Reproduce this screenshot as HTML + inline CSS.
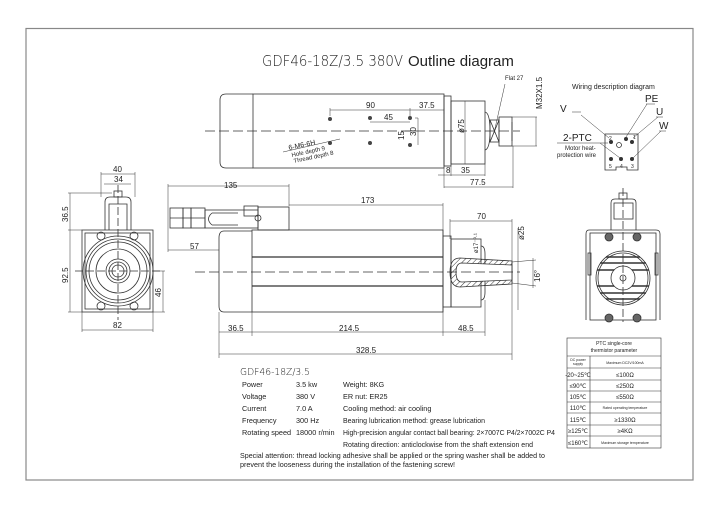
<!DOCTYPE html>
<html><head><meta charset="utf-8"><style>
html,body{margin:0;padding:0;background:#fff;}
svg{display:block;}
text{font-family:"Liberation Sans",sans-serif;fill:#222;}
.d{font-family:"DejaVu Sans","Liberation Sans",sans-serif;font-weight:200;}
</style></head><body>
<svg width="720" height="509" viewBox="0 0 720 509" xmlns="http://www.w3.org/2000/svg">
<defs>
<pattern id="h" width="4" height="4" patternUnits="userSpaceOnUse" patternTransform="rotate(45)"><line x1="0" y1="0" x2="0" y2="4" stroke="#333" stroke-width="1"/></pattern>
</defs>
<rect x="26" y="28.5" width="667" height="451.5" fill="none" stroke="#888" stroke-width="1.2"/>
<text x="262" y="66" font-size="15" class="d" fill="#555" textLength="141" lengthAdjust="spacingAndGlyphs">GDF46-18Z/3.5 380V</text>
<text x="408" y="66" font-size="15">Outline diagram</text>

<g fill="none" stroke="#333" stroke-width="0.8">
<path d="M253 94 H226 Q220 94 220 100 V162 Q220 168 226 168 H253"/>
<rect x="253" y="94" width="191" height="74"/>
<rect x="444" y="96" width="7" height="70"/>
<rect x="451" y="101" width="34" height="63"/>
<path d="M485 112 Q490 113 490 131 Q490 149 485 150"/>
<rect x="490" y="120" width="9" height="22"/>
<path d="M490 120 L499 142 M499 120 L490 142"/>
<rect x="499" y="117" width="13" height="29"/>
<line x1="512" y1="122" x2="512" y2="141"/>
<line x1="205" y1="131" x2="520" y2="131" stroke-dasharray="10,4"/>
<g stroke-width="0.5">
<line x1="330" y1="110" x2="444" y2="110"/><line x1="330" y1="108" x2="330" y2="116"/><line x1="410" y1="108" x2="410" y2="116"/><line x1="444" y1="108" x2="444" y2="114"/>
<line x1="370" y1="122" x2="410" y2="122"/>
<line x1="415" y1="118" x2="418" y2="118"/><line x1="418" y1="118" x2="418" y2="145"/><line x1="405" y1="131" x2="415" y2="131"/>
<line x1="465" y1="101" x2="465" y2="164"/>
<line x1="444" y1="168" x2="444" y2="188"/><line x1="451" y1="166" x2="451" y2="176"/><line x1="485" y1="164" x2="485" y2="176"/><line x1="513" y1="146" x2="513" y2="188"/>
<line x1="438" y1="175" x2="485" y2="175"/><line x1="444" y1="187" x2="513" y2="187"/>
<line x1="512" y1="117" x2="537" y2="117"/><line x1="512" y1="146" x2="537" y2="146"/><line x1="536" y1="117" x2="536" y2="146"/>
<line x1="494" y1="133" x2="505" y2="84"/>
<line x1="283" y1="152" x2="340" y2="139"/>
</g>
<g fill="#444" stroke="none">
<circle cx="330" cy="119" r="2"/><circle cx="370" cy="118" r="2"/><circle cx="410" cy="118" r="2"/>
<circle cx="330" cy="143" r="2"/><circle cx="370" cy="143" r="2"/><circle cx="410" cy="145" r="2"/>
</g>

<path d="M252 231 H224 Q219 231 219 238 V306 Q219 312 224 312 H252"/>
<rect x="252" y="230" width="191" height="82"/>
<line x1="252" y1="257" x2="443" y2="257" stroke-width="1.3"/>
<line x1="252" y1="286" x2="443" y2="286" stroke-width="1.3"/>
<rect x="443" y="236" width="8" height="71"/>
<rect x="451" y="239" width="30" height="68"/>
<path d="M481 246 Q485 246 485 254 V292 Q485 300 481 300"/>
<path d="M460 258 L512 261 V284 L460 287 Q450 287 450 272 Q450 258 460 258 Z" fill="url(#h)"/>
<path d="M462 263 L512 265 V280 L462 282 Q456 282 456 272 Q456 263 462 263 Z" fill="#fff"/>
<line x1="195" y1="272" x2="520" y2="272" stroke-dasharray="10,4"/>
<rect x="258" y="207" width="31" height="23"/>
<rect x="205" y="210" width="53" height="18"/>
<path d="M212 213 H238 M212 225 H238 M212 213 Q205 219 212 225"/>
<rect x="170" y="208" width="13" height="20"/><rect x="183" y="208" width="8" height="20"/><rect x="191" y="208" width="14" height="20"/>
<line x1="170" y1="218" x2="205" y2="218"/>
<rect x="244" y="206" width="14" height="10"/><circle cx="258" cy="218" r="3"/>
<g stroke-width="0.5">
<line x1="168" y1="186" x2="289" y2="186"/><line x1="168" y1="184" x2="168" y2="252"/><line x1="289" y1="184" x2="289" y2="206"/>
<line x1="289" y1="205" x2="443" y2="205"/><line x1="443" y1="203" x2="443" y2="236"/>
<line x1="168" y1="250" x2="219" y2="250"/>
<line x1="450" y1="221" x2="512" y2="221"/><line x1="450" y1="219" x2="450" y2="239"/><line x1="512" y1="219" x2="512" y2="360"/>
<line x1="518" y1="228" x2="518" y2="310"/>
<line x1="512" y1="262" x2="536" y2="260"/><line x1="512" y1="283" x2="536" y2="286"/><line x1="533" y1="258" x2="533" y2="288"/>
<line x1="219" y1="312" x2="219" y2="358"/><line x1="252" y1="312" x2="252" y2="336"/><line x1="443" y1="307" x2="443" y2="336"/><line x1="485" y1="300" x2="485" y2="336"/>
<line x1="219" y1="332" x2="485" y2="332"/>
<line x1="219" y1="354" x2="512" y2="354"/>
</g>

<rect x="82" y="230" width="71" height="82"/>
<rect x="85" y="233" width="65" height="76"/>
<circle cx="118" cy="271" r="35"/><circle cx="118" cy="271" r="32"/><circle cx="118" cy="271" r="29"/><circle cx="118" cy="271" r="22"/><circle cx="118" cy="271" r="12"/><circle cx="118" cy="271" r="9"/><circle cx="118" cy="271" r="6"/>
<circle cx="101" cy="236" r="4"/><circle cx="134" cy="236" r="4"/><circle cx="101" cy="306" r="4"/><circle cx="134" cy="306" r="4"/>
<path d="M105 230 V202 Q105 197 110 197 H126 Q131 197 131 202 V230"/><path d="M109 230 V204 H127 V230"/>
<rect x="114" y="191" width="8" height="6"/>
<line x1="118" y1="185" x2="118" y2="320" stroke-dasharray="8,3"/><line x1="75" y1="271" x2="160" y2="271" stroke-dasharray="8,3"/>
<g stroke-width="0.5">
<line x1="101" y1="174" x2="135" y2="174"/><line x1="101" y1="172" x2="101" y2="197"/><line x1="135" y1="172" x2="135" y2="197"/>
<line x1="104" y1="184" x2="131" y2="184"/>
<line x1="70" y1="193" x2="70" y2="312"/><line x1="68" y1="193" x2="112" y2="193"/><line x1="68" y1="230" x2="82" y2="230"/><line x1="68" y1="312" x2="82" y2="312"/>
<line x1="163" y1="271" x2="163" y2="312"/><line x1="153" y1="312" x2="165" y2="312"/><line x1="153" y1="271" x2="165" y2="271"/>
<line x1="82" y1="312" x2="82" y2="332"/><line x1="153" y1="312" x2="153" y2="332"/><line x1="82" y1="330" x2="153" y2="330"/>
</g>

<path d="M589 230 H656 Q660 230 660 234 V320 M586 320 V234 Q586 230 589 230"/>
<rect x="590" y="233" width="66" height="87"/>
<circle cx="623" cy="278" r="27"/><circle cx="623" cy="278" r="25"/>
<g stroke-width="1.6"><line x1="600" y1="263" x2="646" y2="263"/><line x1="597" y1="270" x2="649" y2="270"/><line x1="597" y1="286" x2="649" y2="286"/><line x1="600" y1="293" x2="646" y2="293"/><line x1="606" y1="299" x2="640" y2="299"/><line x1="606" y1="257" x2="640" y2="257"/></g>
<circle cx="623" cy="278" r="12" fill="#fff"/><circle cx="623" cy="278" r="3"/>
<circle cx="609" cy="237" r="4" fill="#666"/><circle cx="637" cy="237" r="4" fill="#666"/><circle cx="609" cy="318" r="4" fill="#666"/><circle cx="637" cy="318" r="4" fill="#666"/>
<path d="M611 230 V203 Q611 199 615 199 H632 Q636 199 636 203 V230"/><rect x="614" y="203" width="19" height="16"/>
<rect x="619" y="193" width="8" height="6"/>
<line x1="623" y1="188" x2="623" y2="322" stroke-dasharray="8,3"/>
<rect x="588" y="253" width="3" height="22"/><rect x="655" y="253" width="3" height="22"/>

<path d="M605 134 H638 V170 H627 V167 H616 V170 H605 Z"/>
<g fill="#333" stroke="none"><circle cx="611" cy="142" r="2"/><circle cx="626" cy="139" r="2"/><circle cx="632" cy="142" r="2"/><circle cx="611" cy="159" r="2"/><circle cx="621" cy="159" r="2"/><circle cx="632" cy="159" r="2"/></g>
<circle cx="619" cy="145" r="2.5"/>
<g stroke-width="0.5">
<line x1="581" y1="115" x2="609" y2="138"/><line x1="572" y1="112" x2="581" y2="112"/>
<line x1="626" y1="137" x2="647" y2="104"/><line x1="646" y1="104" x2="655" y2="104"/>
<line x1="633" y1="138" x2="658" y2="117"/><line x1="656" y1="117" x2="663" y2="117"/>
<line x1="633" y1="158" x2="661" y2="131"/><line x1="659" y1="131" x2="666" y2="131"/>
<line x1="557" y1="143" x2="608" y2="143"/><line x1="600" y1="143" x2="620" y2="158"/>
</g>

<g stroke-width="0.6">
<rect x="567" y="338" width="94" height="110"/>
<line x1="567" y1="356" x2="661" y2="356"/>
<line x1="567" y1="368" x2="661" y2="368"/><line x1="567" y1="380" x2="661" y2="380"/><line x1="567" y1="391" x2="661" y2="391"/><line x1="567" y1="402" x2="661" y2="402"/><line x1="567" y1="413" x2="661" y2="413"/><line x1="567" y1="425" x2="661" y2="425"/><line x1="567" y1="436" x2="661" y2="436"/>
<line x1="590" y1="356" x2="590" y2="448"/>
</g>
</g>

<g font-size="8" class="d" fill="#333">
<text x="366" y="108">90</text><text x="419" y="108">37.5</text><text x="384" y="120">45</text>
<text transform="translate(404,140) rotate(-90)">15</text><text transform="translate(416,136) rotate(-90)">30</text>
<text transform="translate(464,133) rotate(-90)">ø75</text>
<text x="446" y="173">8</text><text x="461" y="173">35</text><text x="470" y="185">77.5</text>
<text transform="translate(542,109) rotate(-90)">M32X1.5</text>
<text x="289" y="150" font-size="7" transform="rotate(-12 289 150)">6-M6-6H</text>
<text x="224" y="188">135</text><text x="361" y="203">173</text><text x="477" y="219">70</text><text x="190" y="249">57</text>
<text transform="translate(524,240) rotate(-90)">ø25</text>
<text transform="translate(478,253) rotate(-90)" font-size="6">ø17⁻⁰·¹</text>
<text transform="translate(540,282) rotate(-90)">16°</text>
<text x="228" y="331">36.5</text><text x="339" y="331">214.5</text><text x="458" y="331">48.5</text><text x="356" y="353">328.5</text>
<text x="113" y="172">40</text><text x="114" y="182">34</text>
<text transform="translate(68,222) rotate(-90)">36.5</text><text transform="translate(68,283) rotate(-90)">92.5</text>
<text transform="translate(161,297) rotate(-90)">46</text><text x="113" y="328">82</text>
<text x="560" y="112" font-size="10">V</text><text x="645" y="102" font-size="10">PE</text><text x="656" y="115" font-size="10">U</text><text x="659" y="129" font-size="10">W</text>
<text x="563" y="141" font-size="10">2-PTC</text>
<text x="609" y="140" font-size="5">2</text><text x="633" y="139" font-size="5">1</text><text x="609" y="168" font-size="5">5</text><text x="620" y="168" font-size="5">4</text><text x="631" y="168" font-size="5">3</text>
</g>
<g font-size="6" fill="#333">
<text x="292" y="157" transform="rotate(-12 292 157)">Hole depth 9</text>
<text x="294" y="163" transform="rotate(-12 294 163)">Thread depth 8</text>
<text x="505" y="80">Flat 27</text>
<text x="572" y="89" font-size="7">Wiring description diagram</text>
<text x="565" y="150">Motor heat-</text><text x="557" y="157">protection wire</text>
</g>
<g font-size="5" fill="#333" text-anchor="middle">
<text x="614" y="345">PTC single-core</text><text x="614" y="352">thermistor parameter</text>
<text x="578" y="361" font-size="3.5">DC power</text><text x="578" y="365" font-size="3.5">supply</text><text x="625" y="364" font-size="3.5">Maximum DC2V/100mA</text>
<text x="578" y="377" font-size="6">-20~25℃</text><text x="625" y="377" font-size="6">≤100Ω</text>
<text x="578" y="388" font-size="6">≤90℃</text><text x="625" y="388" font-size="6">≤250Ω</text>
<text x="578" y="399" font-size="6">105℃</text><text x="625" y="399" font-size="6">≤550Ω</text>
<text x="578" y="410" font-size="6">110℃</text><text x="625" y="409" font-size="3.5">Rated operating temperature</text>
<text x="578" y="422" font-size="6">115℃</text><text x="625" y="422" font-size="6">≥1330Ω</text>
<text x="578" y="433" font-size="6">≥125℃</text><text x="625" y="433" font-size="6">≥4KΩ</text>
<text x="578" y="445" font-size="6">≤160℃</text><text x="625" y="444" font-size="3.5">Maximum storage temperature</text>
</g>

<text x="240" y="375" font-size="10" class="d" fill="#444" textLength="70" lengthAdjust="spacingAndGlyphs">GDF46-18Z/3.5</text>
<g font-size="7.3" fill="#222">
<text x="242" y="387">Power</text><text x="296" y="387">3.5 kw</text><text x="343" y="387">Weight: 8KG</text>
<text x="242" y="399">Voltage</text><text x="296" y="399">380 V</text><text x="343" y="399">ER nut: ER25</text>
<text x="242" y="411">Current</text><text x="296" y="411">7.0 A</text><text x="343" y="411">Cooling method: air cooling</text>
<text x="242" y="423">Frequency</text><text x="296" y="423">300 Hz</text><text x="343" y="423" textLength="142" lengthAdjust="spacingAndGlyphs">Bearing lubrication method: grease lubrication</text>
<text x="242" y="435">Rotating speed</text><text x="296" y="435">18000 r/min</text><text x="343" y="435" textLength="212" lengthAdjust="spacingAndGlyphs">High-precision angular contact ball bearing: 2×7007C P4/2×7002C P4</text>
<text x="343" y="447" textLength="190" lengthAdjust="spacingAndGlyphs">Rotating direction: anticlockwise from the shaft extension end</text>
<text x="240" y="458" textLength="305" lengthAdjust="spacingAndGlyphs">Special attention: thread locking adhesive shall be applied or the spring washer shall be added to</text>
<text x="240" y="467" textLength="215" lengthAdjust="spacingAndGlyphs">prevent the looseness during the installation of the fastening screw!</text>
</g>
</svg>
</body></html>
